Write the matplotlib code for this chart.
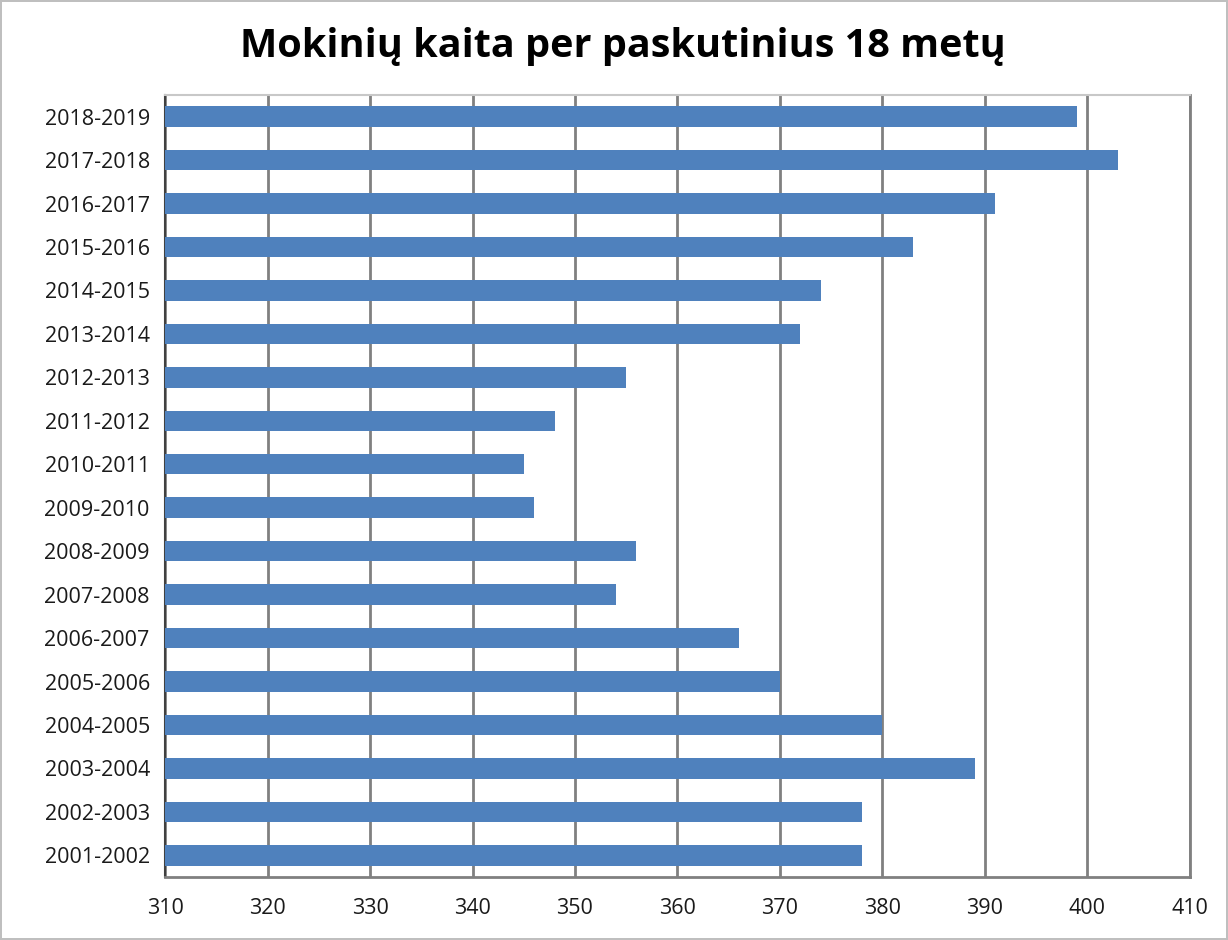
import numpy as np
import matplotlib.pyplot as plt

years = ['2001-2002', '2002-2003', '2003-2004', '2004-2005', '2005-2006',
         '2006-2007', '2007-2008', '2008-2009', '2009-2010', '2010-2011',
         '2011-2012', '2012-2013', '2013-2014', '2014-2015', '2015-2016',
         '2016-2017', '2017-2018', '2018-2019']
students = [378, 378, 389, 380, 370, 366, 354, 356, 346, 345,
            348, 355, 372, 374, 383, 391, 403, 399]

plt.rcParams['font.family'] = ['Open Sans', 'DejaVu Sans']

fig = plt.figure(figsize=(12.28, 9.4), dpi=100)
fig.patch.set_edgecolor('#bfbfbf')
fig.patch.set_linewidth(1.5)
ax = fig.add_axes([0.1344, 0.067, 0.8346, 0.832])

y = np.arange(len(years))
ax.barh(y, [s - 310 for s in students], 0.47, left=310, color='#4F81BD', zorder=3)

ax.set_xlim(310, 410)
ax.set_ylim(-0.5, len(years) - 0.5)
ax.set_xticks(np.arange(310, 411, 10))
ax.set_yticks(y, years)
ax.tick_params(axis='both', length=0, labelsize=15.5, colors='#1a1a1a')
ax.tick_params(axis='x', pad=15)
ax.tick_params(axis='y', pad=11)
ax.grid(axis='x', color='#808080', linewidth=2, zorder=1)

ax.spines['left'].set_color('#404040')
ax.spines['left'].set_linewidth(1.5)
ax.spines['bottom'].set_color('#808080')
ax.spines['bottom'].set_linewidth(2)
ax.spines['top'].set_color('#c8c8c8')
ax.spines['top'].set_linewidth(1.5)
ax.spines['right'].set_color('#808080')
ax.spines['right'].set_linewidth(2)

fig.text(0.507, 0.951, 'Mokinių kaita per paskutinius 18 metų', ha='center', va='center',
         fontsize=28.5, fontweight='bold')

fig.savefig('out.png')
